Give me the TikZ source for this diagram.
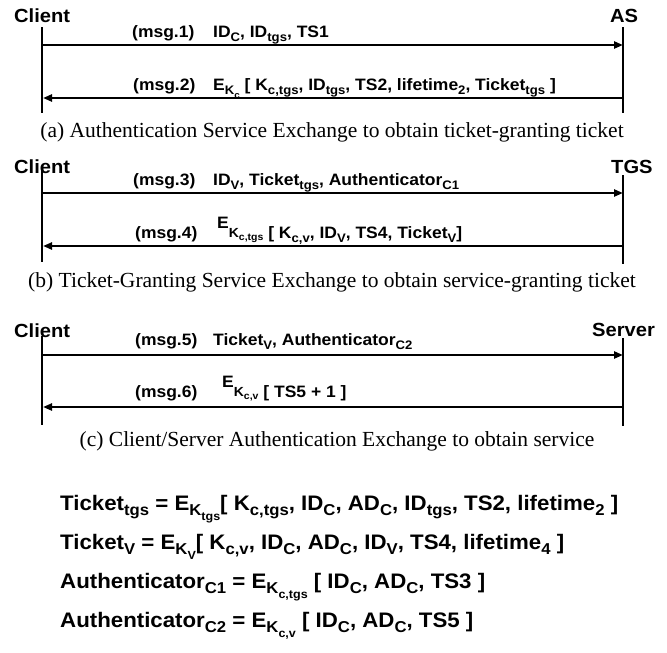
\documentclass[tikz,border=0pt]{standalone}
\usepackage{fontspec}
\setmainfont{Liberation Serif}
\setsansfont{Liberation Sans}[FakeStretch=1.06]
\usepackage{graphicx}
\usetikzlibrary{arrows.meta}
\newcommand\sbx[1]{\raisebox{-0.28em}{\scalebox{0.75}{#1}}}
\newcommand\upE{\raisebox{0.55em}{E}}
\newcommand\kup[1]{\raisebox{0.05em}{\scalebox{0.8}{K\sbx{#1}}}}
\begin{document}
\begin{tikzpicture}[x=1pt,y=-1pt,
  lbl/.style={font=\sffamily\bfseries\fontsize{16.5}{20}\selectfont, inner sep=0pt, anchor=base west},
  actor/.style={font=\sffamily\bfseries\fontsize{19}{22}\selectfont, inner sep=0pt, anchor=base west},
  captxt/.style={font=\fontsize{21.5}{24}\selectfont, inner sep=0pt, anchor=base},
  frm/.style={font=\sffamily\bfseries\fontsize{21}{24}\selectfont, inner sep=0pt, anchor=base west},
  life/.style={line width=1.8pt},
  msgarrow/.style={line width=2.2pt, -{Triangle[length=9pt,width=7pt]}}]
\useasboundingbox (0,0) rectangle (667,653);
\fill[white] (0,0) rectangle (667,653);

% ---------- panel (a)
\node[actor] (clientA) at (14,23) {Client};
\node[actor] (as) at (610,23) {AS};
\coordinate (aLt) at (42,27);  \coordinate (aLb) at (42,113);
\coordinate (aRt) at (623,27); \coordinate (aRb) at (623,113);
\draw[life] (aLt) -- (aLb);
\draw[life] (aRt) -- (aRb);
\coordinate (m1s) at (41,45); \coordinate (m1e) at (623,45);
\coordinate (m2s) at (623,98); \coordinate (m2e) at (43,98);
\draw[msgarrow] (m1s) -- (m1e);
\draw[msgarrow] (m2s) -- (m2e);
\node[lbl] (m1n) at (132,37) {(msg.1)};
\node[lbl] (m1t) at (213,37) {ID\sbx{C}, ID\sbx{tgs}, TS1};
\node[lbl] (m2n) at (133,90) {(msg.2)};
\node[lbl] (m2t) at (213,90) {E\sbx{K\sbx{c}} [ K\sbx{c,tgs}, ID\sbx{tgs}, TS2, lifetime\sbx{2}, Ticket\sbx{tgs} ]};
\node[captxt] (capa) at (332,137) {(a) Authentication Service Exchange to obtain ticket-granting ticket};

% ---------- panel (b)
\node[actor] (clientB) at (14,173) {Client};
\node[actor] (tgs) at (611,173) {TGS};
\coordinate (bLt) at (42,167);  \coordinate (bLb) at (42,262);
\coordinate (bRt) at (623,175); \coordinate (bRb) at (623,264);
\draw[life] (bLt) -- (bLb);
\draw[life] (bRt) -- (bRb);
\coordinate (m3s) at (41,193); \coordinate (m3e) at (623,193);
\coordinate (m4s) at (623,246); \coordinate (m4e) at (43,246);
\draw[msgarrow] (m3s) -- (m3e);
\draw[msgarrow] (m4s) -- (m4e);
\node[lbl] (m3n) at (133,185) {(msg.3)};
\node[lbl] (m3t) at (213,185) {ID\sbx{V}, Ticket\sbx{tgs}, Authenticator\sbx{C1}};
\node[lbl] (m4n) at (135,238) {(msg.4)};
\node[lbl] (m4t) at (217,238) {\upE\kup{c,tgs} [ K\sbx{c,v}, ID\sbx{V}, TS4, Ticket\sbx{V}]};
\node[captxt] (capb) at (332,287) {(b) Ticket-Granting Service Exchange to obtain service-granting ticket};

% ---------- panel (c)
\node[actor] (clientC) at (14,337) {Client};
\node[actor] (server) at (592,336) {Server};
\coordinate (cLt) at (42,336);  \coordinate (cLb) at (42,425);
\coordinate (cRt) at (623,338); \coordinate (cRb) at (623,426);
\draw[life] (cLt) -- (cLb);
\draw[life] (cRt) -- (cRb);
\coordinate (m5s) at (41,355); \coordinate (m5e) at (623,355);
\coordinate (m6s) at (623,407); \coordinate (m6e) at (43,407);
\draw[msgarrow] (m5s) -- (m5e);
\draw[msgarrow] (m6s) -- (m6e);
\node[lbl] (m5n) at (135,345) {(msg.5)};
\node[lbl] (m5t) at (213,345) {Ticket\sbx{V}, Authenticator\sbx{C2}};
\node[lbl] (m6n) at (135,397) {(msg.6)};
\node[lbl] (m6t) at (222,397) {\upE\kup{c,v} [ TS5 + 1 ]};
\node[captxt] (capc) at (337,446) {(c) Client/Server Authentication Exchange to obtain service};

% ---------- definitions
\node[frm] (f1) at (60,510) {Ticket\sbx{tgs} = E\sbx{K\sbx{tgs}}[ K\sbx{c,tgs}, ID\sbx{C}, AD\sbx{C}, ID\sbx{tgs}, TS2, lifetime\sbx{2} ]};
\node[frm] (f2) at (60,549) {Ticket\sbx{V} = E\sbx{K\sbx{V}}[ K\sbx{c,v}, ID\sbx{C}, AD\sbx{C}, ID\sbx{V}, TS4, lifetime\sbx{4} ]};
\node[frm] (f3) at (60,588) {Authenticator\sbx{C1} = E\sbx{K\sbx{c,tgs}} [ ID\sbx{C}, AD\sbx{C}, TS3 ]};
\node[frm] (f4) at (60,627) {Authenticator\sbx{C2} = E\sbx{K\sbx{c,v}} [ ID\sbx{C}, AD\sbx{C}, TS5 ]};
\end{tikzpicture}
\end{document}
